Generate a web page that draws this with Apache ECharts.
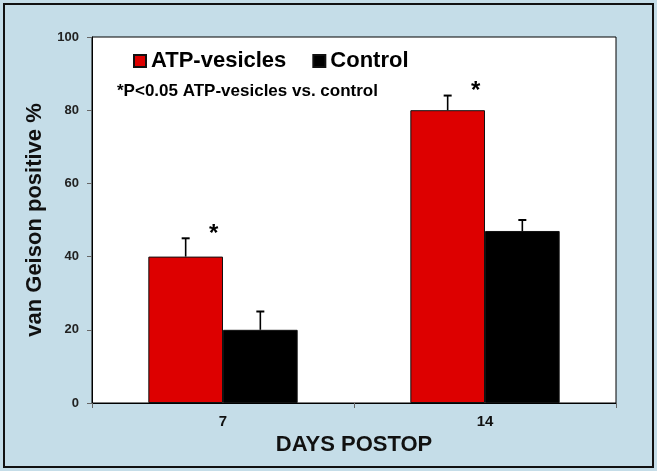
<!DOCTYPE html>
<html><head><meta charset="utf-8">
<script src="https://cdn.jsdelivr.net/npm/echarts@6/dist/echarts.min.js"></script>
<style>html,body{margin:0;padding:0;background:#c5dde8}#frame{position:absolute;left:3px;top:3px;width:647px;height:461px;border:2px solid #111;box-sizing:content-box}#c{position:absolute;left:0;top:0;width:657px;height:471px}</style>
</head><body>
<div id="frame"></div>
<div id="c"></div>
<script>
const categories = ['7', '14'];
const atpValues = [40, 80];
const atpErrors = [5, 4];
const controlValues = [20, 47];
const controlErrors = [5, 3];
const significant = [true, true];
const yTicks = [0, 20, 40, 60, 80, 100];

const chart = echarts.init(document.getElementById('c'));
const FONT = 'Liberation Sans';
const BAR_FRAC = 0.285;

function errRender(sign, showStar) {
  return function (params, api) {
    const i = api.value(0);
    const v = api.value(1);
    const e = api.value(2);
    const band = api.size([1, 0])[0];
    const bw = band * BAR_FRAC;
    const c0 = api.coord([i, 0]);
    const x = c0[0] + sign * bw / 2;
    const yTop = api.coord([i, v + e])[1];
    const yBar = api.coord([i, v])[1];
    const children = [
      {type: 'line', shape: {x1: x, y1: yBar, x2: x, y2: yTop}, style: {stroke: '#000', lineWidth: 1.6}},
      {type: 'line', shape: {x1: x - 4, y1: yTop, x2: x + 4, y2: yTop}, style: {stroke: '#000', lineWidth: 2}}
    ];
    if (showStar && significant[i]) {
      children.push({type: 'text', style: {text: '*', x: x + 28, y: yTop - 16, textAlign: 'center', textVerticalAlign: 'top', font: 'bold 24px ' + FONT, fill: '#000'}});
    }
    return {type: 'group', children: children};
  };
}

chart.setOption({
  backgroundColor: 'transparent',
  animation: false,
  grid: {left: 92, right: 41, top: 37, bottom: 68, show: true, backgroundColor: '#fff', borderColor: '#000', borderWidth: 1},
  legend: {
    data: ['ATP-vesicles', 'Control'],
    left: 128, top: 45, itemWidth: 12, itemHeight: 12, itemGap: 26,
    icon: 'rect',
    textStyle: {fontFamily: FONT, fontWeight: 'bold', fontSize: 22, color: '#000'}
  },
  graphic: [{type: 'text', left: 117, top: 83, style: {text: '*P<0.05 ATP-vesicles vs. control', font: 'bold 17px ' + FONT, fill: '#000'}}],
  xAxis: {
    type: 'category', data: categories,
    name: 'DAYS POSTOP', nameLocation: 'middle', nameGap: 28,
    nameTextStyle: {fontFamily: FONT, fontWeight: 'bold', fontSize: 22, color: '#111'},
    axisLine: {lineStyle: {color: '#000'}},
    axisTick: {show: true, alignWithLabel: false, length: 5, lineStyle: {color: '#666'}},
    axisLabel: {fontFamily: FONT, fontWeight: 'bold', fontSize: 15, color: '#111', margin: 11}
  },
  yAxis: {
    type: 'value', min: 0, max: 100, interval: 20,
    name: 'van Geison positive %', nameLocation: 'middle', nameGap: 39,
    nameTextStyle: {fontFamily: FONT, fontWeight: 'bold', fontSize: 22, color: '#111'},
    splitLine: {show: false},
    axisLine: {show: true, lineStyle: {color: '#000'}},
    axisTick: {show: true, length: 5, lineStyle: {color: '#666'}},
    axisLabel: {fontFamily: FONT, fontWeight: 'bold', fontSize: 13, color: '#222', margin: 13,
      formatter: v => yTicks.includes(v) ? String(v) : ''}
  },
  series: [
    {name: 'ATP-vesicles', type: 'bar', data: atpValues, barWidth: (BAR_FRAC * 100) + '%', barGap: '0%',
      itemStyle: {color: '#dd0000', borderColor: '#111', borderWidth: 1}},
    {name: 'Control', type: 'bar', data: controlValues, barWidth: (BAR_FRAC * 100) + '%', barGap: '0%',
      itemStyle: {color: '#000', borderColor: '#111', borderWidth: 1}},
    {type: 'custom', renderItem: errRender(-1, true), z: 5,
      data: categories.map((c, i) => [i, atpValues[i], atpErrors[i]]), encode: {x: 0, y: 1}},
    {type: 'custom', renderItem: errRender(1, false), z: 5,
      data: categories.map((c, i) => [i, controlValues[i], controlErrors[i]]), encode: {x: 0, y: 1}}
  ]
});
</script>
</body></html>
